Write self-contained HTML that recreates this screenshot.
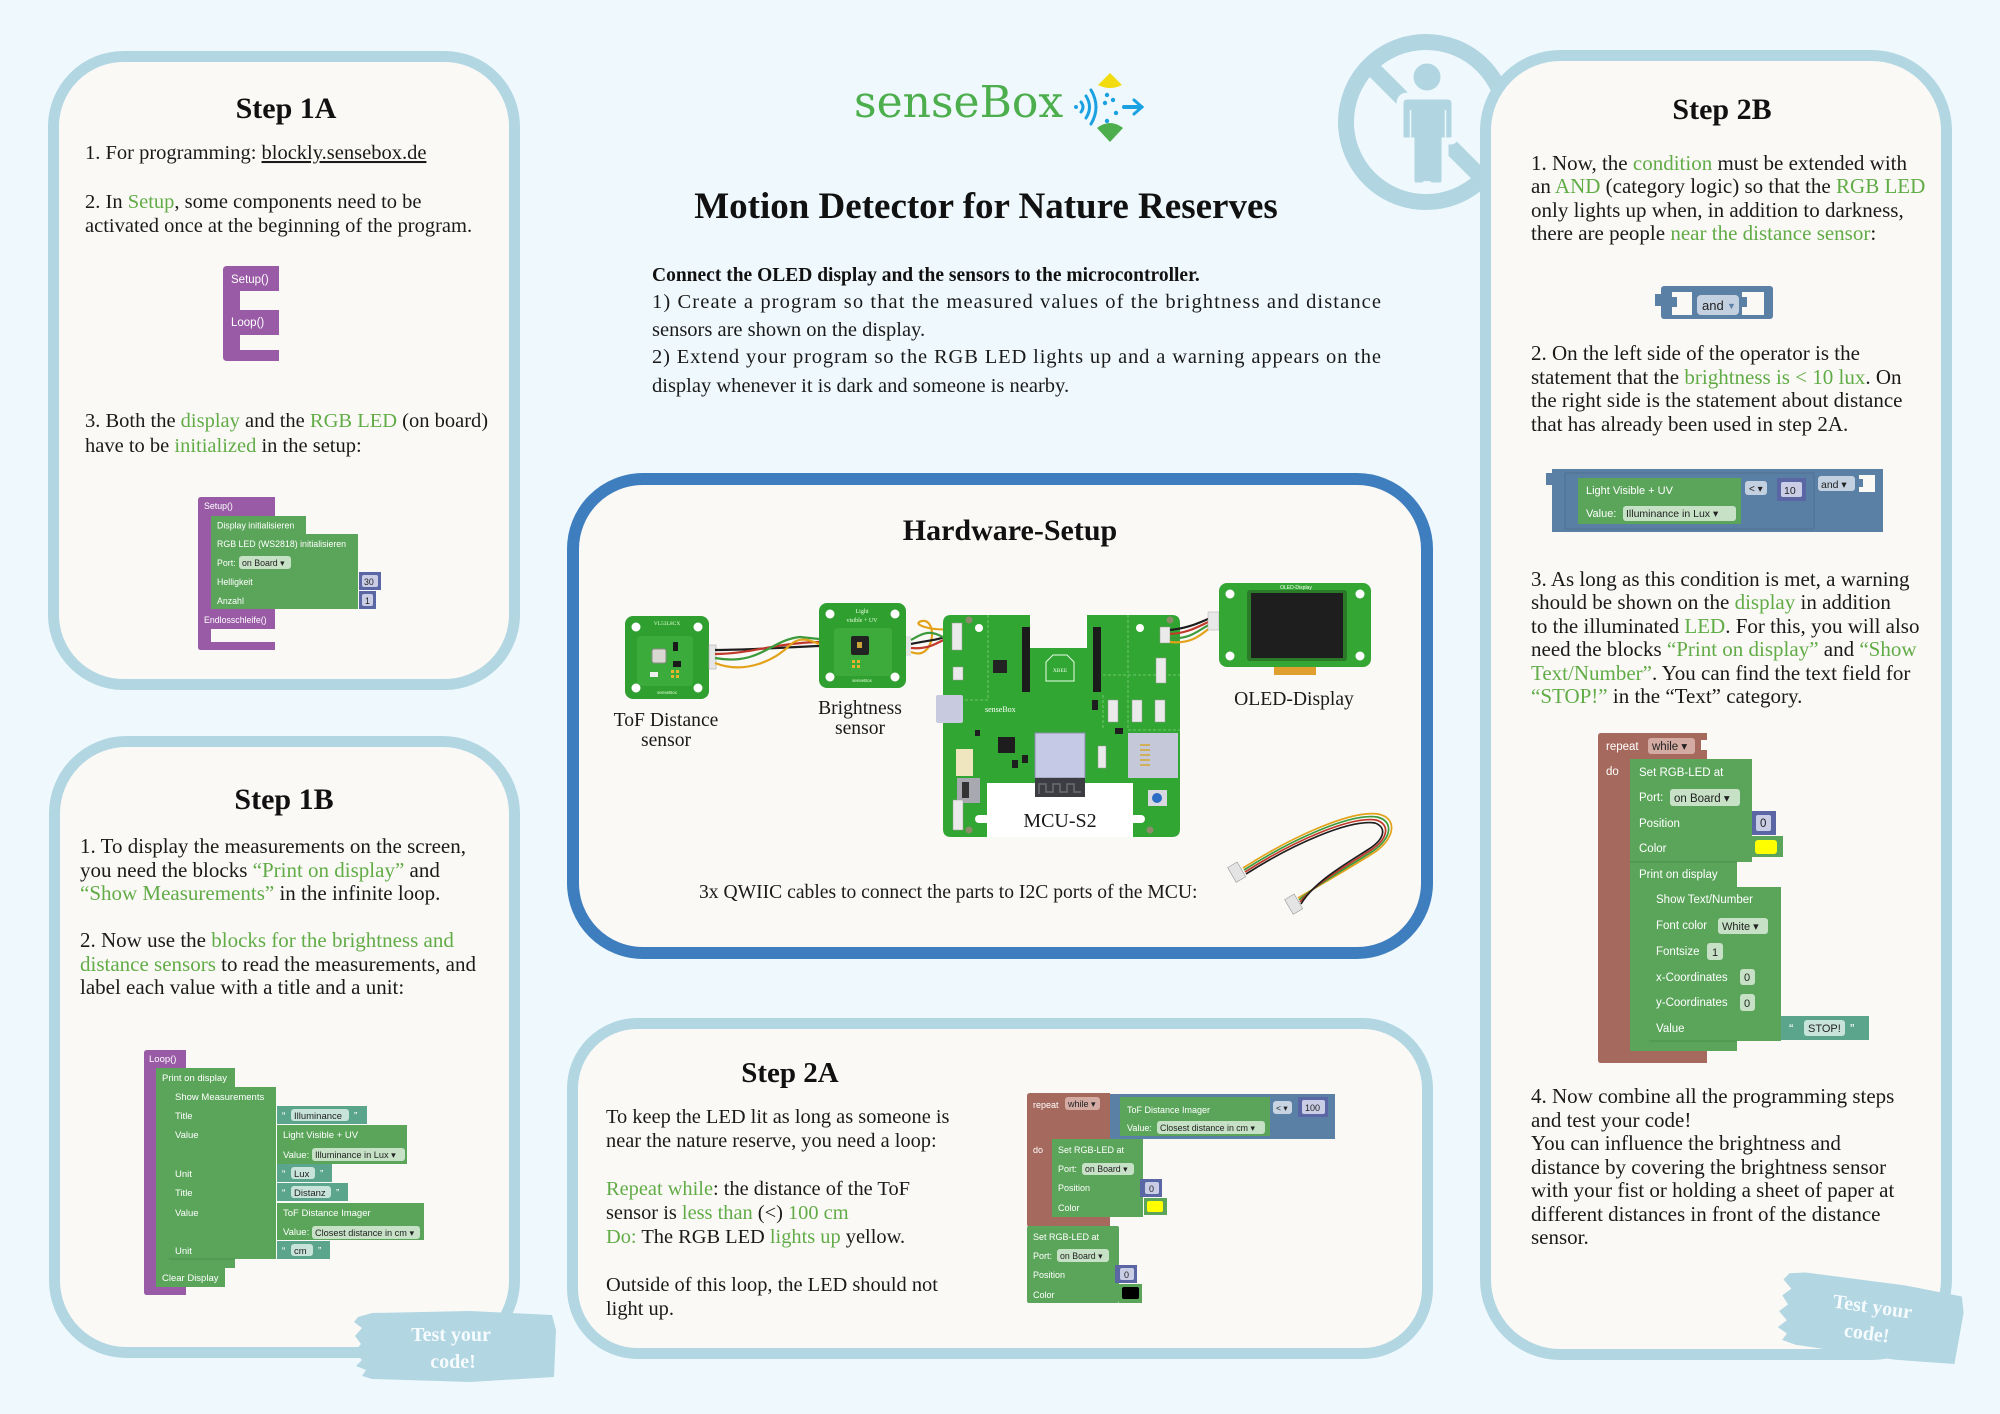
<!DOCTYPE html>
<html><head><meta charset="utf-8">
<style>
html,body{margin:0;padding:0;background:#eff9fd;}
svg{display:block;}
.s{font-family:"Liberation Serif",serif;fill:#1a1a1a;}
.h{font-family:"Liberation Serif",serif;font-weight:bold;fill:#111;}
.k{font-family:"Liberation Sans","DejaVu Sans",sans-serif;fill:#fff;}
.d{font-family:"Liberation Sans","DejaVu Sans",sans-serif;fill:#222;}
.g{fill:#62ac47;}
</style></head><body>
<svg width="2000" height="1414" viewBox="0 0 2000 1414" xmlns="http://www.w3.org/2000/svg">
<rect width="2000" height="1414" fill="#eff9fd"/>

<!-- no-person icon -->
<g>
<circle cx="1426" cy="122" r="80" fill="none" stroke="#b1d5e1" stroke-width="16"/>
<line x1="1370" y1="66" x2="1484" y2="180" stroke="#b1d5e1" stroke-width="16"/>
<circle cx="1427" cy="77" r="17" fill="#b1d5e1" stroke="#eff9fd" stroke-width="7"/>
<path d="M1408,96 H1447 Q1455,96 1455,104 V136 Q1455,141 1450,141 H1445 V180 Q1445,186 1439,186 H1432 Q1428,186 1427,182 Q1426,186 1422,186 H1416 Q1411,186 1411,180 V141 H1405 Q1400,141 1400,136 V104 Q1400,96 1408,96 Z" fill="#b1d5e1" stroke="#eff9fd" stroke-width="7"/>
<line x1="1410.5" y1="110" x2="1410.5" y2="142" stroke="#eff9fd" stroke-width="1.5"/>
<line x1="1445.5" y1="110" x2="1445.5" y2="142" stroke="#eff9fd" stroke-width="1.5"/>
</g>

<!-- panels -->
<rect x="53.5" y="56.5" width="461" height="628" rx="70" fill="#faf9f6" stroke="#b2d6e2" stroke-width="11"/>
<rect x="54.5" y="741.5" width="460" height="611" rx="72" fill="#faf9f6" stroke="#b2d6e2" stroke-width="11"/>
<rect x="573" y="479" width="854" height="474" rx="70" fill="#faf9f6" stroke="#3e7ebf" stroke-width="12"/>
<rect x="572.5" y="1023.5" width="855" height="330" rx="65" fill="#faf9f6" stroke="#b2d6e2" stroke-width="11"/>
<rect x="1485.5" y="55.5" width="461" height="1299" rx="75" fill="#faf9f6" stroke="#b2d6e2" stroke-width="11"/>

<!-- logo -->
<text x="854" y="117" font-family="DejaVu Serif, serif" font-size="44" fill="#4cae4c">senseBox</text>
<path d="M1098,85 L1110,73 L1122,85 Q1110,91 1098,85 Z" fill="#f2dc10"/>
<path d="M1097,128 Q1110,118 1123,128 L1110,142 Z" fill="#4cae4c"/>
<g fill="none" stroke="#1ba1e2" stroke-width="3" stroke-linecap="round">
<path d="M1081,102 Q1085,107 1081,112"/>
<path d="M1086,96 Q1093,107 1086,118"/>
<path d="M1091,90 Q1101,107 1091,124"/>
<path d="M1134,100 L1142,107 L1134,114"/>
<line x1="1124" y1="107" x2="1141" y2="107" stroke-width="4"/>
</g>
<g fill="#1ba1e2"><circle cx="1076" cy="107" r="2"/><circle cx="1107" cy="95" r="2.2"/><circle cx="1105" cy="103" r="2.2"/><circle cx="1113" cy="100" r="2.2"/><circle cx="1116" cy="113" r="2.2"/><circle cx="1107" cy="121" r="2.2"/></g>

<!-- title + intro -->
<text x="986" y="218" class="h" font-size="37" text-anchor="middle">Motion Detector for Nature Reserves</text>
<text x="652" y="281" class="h" font-size="19.5">Connect the OLED display and the sensors to the microcontroller.</text>
<text x="652" y="308" class="s" font-size="20.5" textLength="729" lengthAdjust="spacing">1) Create a program so that the measured values of the brightness and distance</text>
<text x="652" y="336" class="s" font-size="20.5">sensors are shown on the display.</text>
<text x="652" y="363" class="s" font-size="20.5" textLength="729" lengthAdjust="spacing">2) Extend your program so the RGB LED lights up and a warning appears on the</text>
<text x="652" y="392" class="s" font-size="20.5">display whenever it is dark and someone is nearby.</text>

<!-- Step 1A -->
<text x="286" y="118" class="h" font-size="30" text-anchor="middle">Step 1A</text>
<text x="85" y="159" class="s" font-size="20.5">1. For programming: <tspan style="text-decoration:underline">blockly.sensebox.de </tspan></text>
<text x="85" y="208" class="s" font-size="20.5">2. In <tspan class="g">Setup</tspan>, some components need to be</text>
<text x="85" y="232" class="s" font-size="20.5">activated once at the beginning of the program.</text>
<text x="85" y="427" class="s" font-size="20.5">3. Both the <tspan class="g">display</tspan> and the <tspan class="g">RGB LED</tspan> (on board)</text>
<text x="85" y="452" class="s" font-size="20.5">have to be <tspan class="g">initialized</tspan> in the setup:</text>

<!-- 1A block: Setup/Loop -->
<path d="M227,266 H279 V291 H240 V310 H279 V335 H240 V350 H279 V361 H227 Q223,361 223,357 V270 Q223,266 227,266 Z" fill="#995ba5"/>
<text x="231" y="283" class="k" font-size="11.5">Setup()</text>
<text x="231" y="326" class="k" font-size="11.5">Loop()</text>

<!-- 1A block: Setup with init -->
<path d="M201,497 H275 V516 H211 V609 H275 V629 H211 V642 H275 V650 H201 Q198,650 198,647 V500 Q198,497 201,497 Z" fill="#995ba5"/>
<text x="204" y="509" class="k" font-size="8.8">Setup()</text>
<rect x="211" y="516" width="95" height="18" fill="#5ba55b"/>
<text x="217" y="528.5" class="k" font-size="8.8">Display initialisieren</text>
<rect x="211" y="534" width="147" height="75" fill="#5ba55b"/>
<text x="217" y="547" class="k" font-size="8.8">RGB LED (WS2818) initialisieren</text>
<text x="217" y="566" class="k" font-size="8.8">Port:</text>
<rect x="239" y="556" width="52" height="13" rx="3" fill="#c6e1c6"/>
<text x="242" y="566" class="d" font-size="8.8">on Board ▾</text>
<text x="217" y="585" class="k" font-size="8.8">Helligkeit</text>
<text x="217" y="604" class="k" font-size="8.8">Anzahl</text>
<rect x="359" y="572" width="22" height="18" fill="#5b67a5"/>
<rect x="362" y="575" width="16" height="12" rx="2" fill="#c9cde6"/>
<text x="364" y="585" class="d" font-size="8.8">30</text>
<rect x="359" y="591" width="17" height="18" fill="#5b67a5"/>
<rect x="362" y="594" width="11" height="12" rx="2" fill="#c9cde6"/>
<text x="365" y="604" class="d" font-size="8.8">1</text>
<text x="204" y="623" class="k" font-size="8.8">Endlosschleife()</text>

<!-- Step 1B -->
<text x="284" y="809" class="h" font-size="30" text-anchor="middle">Step 1B</text>
<text x="80" y="853" class="s" font-size="21">1. To display the measurements on the screen,</text>
<text x="80" y="877" class="s" font-size="21">you need the blocks <tspan class="g">“Print on display”</tspan> and</text>
<text x="80" y="900" class="s" font-size="21"><tspan class="g">“Show Measurements”</tspan> in the infinite loop.</text>
<text x="80" y="947" class="s" font-size="21">2. Now use the <tspan class="g">blocks for the brightness and</tspan></text>
<text x="80" y="971" class="s" font-size="21"><tspan class="g">distance sensors</tspan> to read the measurements, and</text>
<text x="80" y="994" class="s" font-size="21">label each value with a title and a unit:</text>

<!-- 1B block -->
<path d="M147,1050 H186 V1068 H157 V1287 H186 V1295 H147 Q144,1295 144,1292 V1053 Q144,1050 147,1050 Z" fill="#995ba5"/>
<text x="149" y="1062" class="k" font-size="9.5">Loop()</text>
<path d="M156,1068 H235 V1087 H169 V1259 H235 V1268 H156 Z" fill="#5ba55b"/>
<text x="162" y="1081" class="k" font-size="9.5">Print on display</text>
<rect x="169" y="1087" width="107" height="172" fill="#5ba55b"/>
<g class="k" font-size="9.5">
<text x="175" y="1100">Show Measurements</text>
<text x="175" y="1119">Title</text>
<text x="175" y="1138">Value</text>
<text x="175" y="1177">Unit</text>
<text x="175" y="1196">Title</text>
<text x="175" y="1216">Value</text>
<text x="175" y="1254">Unit</text>
</g>
<rect x="156" y="1268" width="69" height="19" fill="#5ba55b"/>
<text x="162" y="1281" class="k" font-size="9.5">Clear Display</text>
<line x1="169" y1="1259" x2="235" y2="1259" stroke="#4a914a" stroke-width="1"/>
<rect x="277" y="1106" width="90" height="18" fill="#5ba58c"/>
<text x="282" y="1119" class="k" font-size="10">“</text>
<rect x="291" y="1109" width="58" height="12" rx="3" fill="#c8e4da"/>
<text x="294" y="1119" class="d" font-size="9.5">Illuminance</text>
<text x="354" y="1119" class="k" font-size="10">”</text>
<rect x="277" y="1125" width="130" height="39" fill="#5ba55b"/>
<text x="283" y="1138" class="k" font-size="9.5">Light Visible + UV</text>
<text x="283" y="1158" class="k" font-size="9.5">Value:</text>
<rect x="312" y="1148" width="93" height="13" rx="3" fill="#c6e1c6"/>
<text x="315" y="1158" class="d" font-size="9.2">Illuminance in Lux ▾</text>
<rect x="277" y="1164" width="55" height="18" fill="#5ba58c"/>
<text x="282" y="1177" class="k" font-size="10">“</text>
<rect x="291" y="1167" width="24" height="12" rx="3" fill="#c8e4da"/>
<text x="294" y="1177" class="d" font-size="9.5">Lux</text>
<text x="320" y="1177" class="k" font-size="10">”</text>
<rect x="277" y="1183" width="71" height="18" fill="#5ba58c"/>
<text x="282" y="1196" class="k" font-size="10">“</text>
<rect x="291" y="1186" width="40" height="12" rx="3" fill="#c8e4da"/>
<text x="294" y="1196" class="d" font-size="9.5">Distanz</text>
<text x="336" y="1196" class="k" font-size="10">”</text>
<rect x="277" y="1203" width="147" height="37" fill="#5ba55b"/>
<text x="283" y="1216" class="k" font-size="9.5">ToF Distance Imager</text>
<text x="283" y="1235" class="k" font-size="9.5">Value:</text>
<rect x="312" y="1226" width="108" height="13" rx="3" fill="#c6e1c6"/>
<text x="315" y="1236" class="d" font-size="9.2">Closest distance in cm ▾</text>
<rect x="277" y="1241" width="53" height="18" fill="#5ba58c"/>
<text x="282" y="1254" class="k" font-size="10">“</text>
<rect x="291" y="1244" width="22" height="12" rx="3" fill="#c8e4da"/>
<text x="294" y="1254" class="d" font-size="9.5">cm</text>
<text x="318" y="1254" class="k" font-size="10">”</text>

<!-- Test your code 1B -->
<path d="M358,1317 L372,1313 L470,1311 L552,1315 L556,1330 L554,1377 L470,1382 L372,1379 L362,1376 L366,1370 L356,1366 L362,1360 L354,1352 L361,1344 L355,1336 L362,1328 L354,1322 Z" fill="#b2d6e2"/>
<text x="451" y="1341" class="h" font-size="20" style="fill:#f6fbfd" text-anchor="middle">Test your</text>
<text x="453" y="1368" class="h" font-size="20" style="fill:#f6fbfd" text-anchor="middle">code!</text>

<!-- Hardware -->
<text x="1010" y="540" class="h" font-size="30" text-anchor="middle">Hardware-Setup</text>

<!-- ToF board -->
<rect x="625" y="616" width="84" height="83" rx="8" fill="#2f9f2f"/>
<rect x="637" y="636" width="56" height="50" rx="3" fill="#3bab3b"/>
<g fill="#fff"><circle cx="636" cy="627" r="4.5"/><circle cx="698" cy="627" r="4.5"/><circle cx="636" cy="688" r="4.5"/><circle cx="698" cy="688" r="4.5"/></g>
<rect x="652" y="649" width="14" height="14" rx="2" fill="#d8d8d0" stroke="#888" stroke-width="1"/>
<rect x="673" y="642" width="5" height="9" fill="#1a1a1a"/>
<rect x="673" y="661" width="8" height="6" fill="#1a1a1a"/>
<g fill="#e8b42a"><rect x="671" y="670" width="3" height="3"/><rect x="676" y="670" width="3" height="3"/><rect x="671" y="675" width="3" height="3"/><rect x="676" y="675" width="3" height="3"/></g>
<rect x="650" y="672" width="8" height="5" fill="#eee"/>
<text x="667" y="625" font-family="Liberation Serif,serif" font-size="5.5" fill="#dfffd0" text-anchor="middle">VL53L8CX</text>
<text x="667" y="694" font-family="Liberation Sans,sans-serif" font-size="4.5" fill="#dfffd0" text-anchor="middle">senseBox</text>
<rect x="709" y="645" width="7" height="24" fill="#e6e6e6" stroke="#aaa" stroke-width="0.6"/>

<!-- Brightness board -->
<rect x="819" y="603" width="87" height="85" rx="8" fill="#2f9f2f"/>
<rect x="834" y="628" width="58" height="48" rx="3" fill="#3cab3c"/>
<g fill="#fff"><circle cx="830" cy="614" r="4.5"/><circle cx="895" cy="614" r="4.5"/><circle cx="830" cy="677" r="4.5"/><circle cx="895" cy="677" r="4.5"/></g>
<rect x="851" y="636" width="18" height="19" rx="2" fill="#222"/>
<rect x="857" y="642" width="5" height="6" fill="#c9a33a"/>
<g fill="#e8b42a"><rect x="852" y="660" width="3" height="3"/><rect x="857" y="660" width="3" height="3"/><rect x="852" y="665" width="3" height="3"/><rect x="857" y="665" width="3" height="3"/></g>
<text x="862" y="613" font-family="Liberation Serif,serif" font-size="6" fill="#e6ffdc" text-anchor="middle">Light</text>
<text x="862" y="622" font-family="Liberation Serif,serif" font-size="6" fill="#e6ffdc" text-anchor="middle">visible + UV</text>
<text x="862" y="682" font-family="Liberation Sans,sans-serif" font-size="4.5" fill="#e6ffdc" text-anchor="middle">senseBox</text>
<rect x="906" y="636" width="5" height="20" fill="#e6e6e6"/>

<!-- wires ToF -> Brightness -->
<g fill="none" stroke-width="2.2">
<path d="M715,650 C750,650 770,648 819,646" stroke="#1e1e1e"/>
<path d="M715,654 C750,654 775,643 819,642" stroke="#c0392b"/>
<path d="M715,658 C760,666 770,640 800,637 L819,639" stroke="#3c9a3c"/>
<path d="M715,663 C745,675 775,660 790,645 C800,636 810,640 819,644" stroke="#e3a21a"/>
</g>
<!-- wires Brightness -> MCU -->
<g fill="none" stroke-width="2.2">
<path d="M911,652 C935,662 938,618 922,621 C910,624 930,631 952,629" stroke="#e3a21a"/>
<path d="M911,644 C930,640 940,640 952,634" stroke="#1e1e1e"/>
<path d="M911,648 C935,650 940,638 952,638" stroke="#c0392b"/>
<path d="M911,640 C925,632 932,628 952,643" stroke="#3c9a3c"/>
</g>

<!-- MCU board -->
<path d="M951,615 L1030,615 L1030,648 L1087,648 L1087,615 L1172,615 Q1180,615 1180,623 L1180,829 Q1180,837 1172,837 L951,837 Q943,837 943,829 L943,623 Q943,615 951,615 Z" fill="#32a632"/>
<g fill="none" stroke="#7fd07f" stroke-width="0.8" stroke-dasharray="3,2">
<path d="M988,615 V700 H943"/>
<path d="M1128,615 V730 H1180"/>
<path d="M1103,675 H1180"/>
<path d="M1103,695 V730"/>
</g>
<rect x="1022" y="627" width="8" height="65" fill="#1b1b1b"/>
<rect x="1093" y="627" width="8" height="65" fill="#1b1b1b"/>
<path d="M1046,662 L1053,655 L1067,655 L1074,662 L1074,681 L1046,681 Z" fill="none" stroke="#e8ffe8" stroke-width="1"/>
<text x="1060" y="672" font-family="Liberation Serif,serif" font-size="5.5" fill="#e8ffe8" text-anchor="middle">XBEE</text>
<rect x="993" y="660" width="14" height="13" fill="#222"/>
<rect x="998" y="737" width="17" height="16" fill="#1d1d1d"/>
<rect x="936" y="695" width="27" height="28" rx="2" fill="#c8cbe0"/>
<rect x="956" y="749" width="17" height="27" fill="#efe6c0"/>
<rect x="957" y="778" width="23" height="25" fill="#a8a8b0"/>
<rect x="962" y="782" width="7" height="16" fill="#333"/>
<rect x="1128" y="733" width="50" height="45" fill="#c5c8d8"/>
<g stroke="#d4a82a" stroke-width="1.5"><line x1="1140" y1="745" x2="1150" y2="745"/><line x1="1140" y1="750" x2="1150" y2="750"/><line x1="1140" y1="755" x2="1150" y2="755"/><line x1="1140" y1="760" x2="1150" y2="760"/><line x1="1140" y1="765" x2="1150" y2="765"/></g>
<rect x="1148" y="790" width="19" height="16" fill="#d8d8e0"/>
<circle cx="1157" cy="798" r="5" fill="#2b6cc4"/>
<g fill="#eaeaea" stroke="#999" stroke-width="0.5">
<rect x="952" y="623" width="10" height="27"/>
<rect x="1160" y="627" width="10" height="16"/>
<rect x="1156" y="658" width="10" height="25"/>
<rect x="1108" y="700" width="10" height="22"/>
<rect x="1132" y="700" width="10" height="22"/>
<rect x="1155" y="700" width="10" height="22"/>
<rect x="953" y="667" width="10" height="13"/>
<rect x="953" y="800" width="10" height="30"/>
<rect x="1098" y="746" width="8" height="22"/>
</g>
<g fill="#1e1e1e"><rect x="1012" y="760" width="6" height="8"/><rect x="1022" y="755" width="6" height="8"/><rect x="1115" y="728" width="8" height="6"/><rect x="1092" y="700" width="6" height="10"/><rect x="975" y="730" width="5" height="6"/></g>
<circle cx="979" cy="628" r="4" fill="#fff"/><circle cx="1140" cy="628" r="4" fill="#fff"/>
<circle cx="969" cy="620" r="3.5" fill="#8c8c6c"/><circle cx="1170" cy="620" r="3.5" fill="#8c8c6c"/><circle cx="969" cy="830" r="3.5" fill="#8c8c6c"/><circle cx="1150" cy="830" r="3.5" fill="#8c8c6c"/>
<text x="985" y="712" font-family="Liberation Serif,serif" font-size="8" fill="#fff">senseBox</text>
<rect x="987" y="783" width="146" height="54" fill="#fff"/>
<rect x="975" y="815" width="20" height="8" rx="4" fill="#fff"/>
<rect x="1125" y="815" width="20" height="8" rx="4" fill="#fff"/>
<rect x="1035" y="733" width="50" height="45" fill="#c5c9e6" stroke="#8a8ea8" stroke-width="1"/>
<rect x="1035" y="778" width="50" height="19" fill="#3b3d42"/>
<path d="M1039,794 V784 H1046 V792 H1053 V784 H1060 V792 H1067 V784 H1074 V792 H1081" fill="none" stroke="#6a6c72" stroke-width="1.5"/>
<text x="1060" y="827" class="s" font-size="20" text-anchor="middle">MCU-S2</text>

<!-- wires MCU -> OLED -->
<g fill="none" stroke-width="2.2">
<path d="M1170,630 C1190,628 1200,622 1213,617" stroke="#1e1e1e"/>
<path d="M1170,634 C1190,633 1200,625 1213,620" stroke="#c0392b"/>
<path d="M1170,638 C1192,640 1200,628 1213,623" stroke="#3c9a3c"/>
<path d="M1170,642 C1195,645 1205,630 1213,626" stroke="#e3a21a"/>
</g>
<rect x="1208" y="612" width="11" height="18" fill="#e8e8e8" stroke="#aaa" stroke-width="0.5"/>

<!-- OLED -->
<rect x="1274" y="662" width="42" height="13" fill="#e0a030"/>
<rect x="1219" y="583" width="152" height="84" rx="8" fill="#34a634"/>
<g fill="#fff"><circle cx="1230" cy="594" r="4.5"/><circle cx="1360" cy="594" r="4.5"/><circle cx="1230" cy="656" r="4.5"/><circle cx="1360" cy="656" r="4.5"/></g>
<rect x="1247" y="590" width="100" height="71" rx="3" fill="#2a7a2a"/>
<rect x="1251" y="593" width="92" height="65" fill="#1e1e1e"/>
<text x="1296" y="589" font-family="Liberation Sans,sans-serif" font-size="5" fill="#fff" text-anchor="middle">OLED-Display</text>

<!-- labels -->
<text x="666" y="726" class="s" font-size="19.6" text-anchor="middle">ToF Distance</text>
<text x="666" y="746" class="s" font-size="19.6" text-anchor="middle">sensor</text>
<text x="860" y="714" class="s" font-size="19.6" text-anchor="middle">Brightness</text>
<text x="860" y="734" class="s" font-size="19.6" text-anchor="middle">sensor</text>
<text x="1294" y="705" class="s" font-size="19.6" text-anchor="middle">OLED-Display</text>
<text x="699" y="898" class="s" font-size="19.6">3x QWIIC cables to connect the parts to I2C ports of the MCU:</text>

<!-- QWIIC cable -->
<g fill="none" stroke-width="1.7">
<path d="M1243,868 C1290,838 1350,810 1378,814 C1398,818 1395,838 1375,852 C1350,868 1320,885 1298,898" stroke="#e3a21a"/>
<path d="M1244,870 C1291,840 1350,813 1377,817 C1394,821 1392,838 1373,851 C1348,867 1318,884 1299,900" stroke="#3c9a3c"/>
<path d="M1245,872 C1292,842 1350,816 1376,820 C1390,824 1389,838 1371,850 C1346,866 1316,883 1300,902" stroke="#c0392b"/>
<path d="M1246,874 C1293,844 1350,819 1375,823 C1386,827 1386,838 1369,849 C1344,865 1314,882 1301,904" stroke="#1e1e1e"/>
</g>
<rect x="1231" y="864" width="11" height="17" fill="#e4e4e4" stroke="#999" stroke-width="0.6" transform="rotate(-30 1236 872)"/>
<rect x="1288" y="896" width="11" height="17" fill="#e4e4e4" stroke="#999" stroke-width="0.6" transform="rotate(-30 1293 904)"/>

<!-- Step 2A -->
<text x="790" y="1082" class="h" font-size="29" text-anchor="middle">Step 2A</text>
<text x="606" y="1123" class="s" font-size="20.4">To keep the LED lit as long as someone is</text>
<text x="606" y="1147" class="s" font-size="20.4">near the nature reserve, you need a loop:</text>
<text x="606" y="1195" class="s" font-size="20.4"><tspan class="g">Repeat while</tspan>: the distance of the ToF</text>
<text x="606" y="1219" class="s" font-size="20.4">sensor is <tspan class="g">less than</tspan> (&lt;) <tspan class="g">100 cm</tspan></text>
<text x="606" y="1243" class="s" font-size="20.4"><tspan class="g">Do:</tspan> The RGB LED <tspan class="g">lights up</tspan> yellow.</text>
<text x="606" y="1291" class="s" font-size="20.4">Outside of this loop, the LED should not</text>
<text x="606" y="1315" class="s" font-size="20.4">light up.</text>

<!-- 2A blocks -->
<path d="M1030,1093 H1110 V1140 H1052 V1217 H1110 V1227 H1030 Q1027,1227 1027,1224 V1096 Q1027,1093 1030,1093 Z" fill="#a6695d"/>
<text x="1033" y="1108" class="k" font-size="9">repeat</text>
<rect x="1065" y="1097" width="35" height="13" rx="3" fill="#d3aba3"/>
<text x="1068" y="1107" class="d" font-size="9">while ▾</text>
<text x="1033" y="1153" class="k" font-size="9">do</text>
<rect x="1110" y="1094" width="225" height="45" fill="#5b80a5"/>
<rect x="1120" y="1097" width="150" height="39" fill="#5ba55b"/>
<text x="1127" y="1113" class="k" font-size="9">ToF Distance Imager</text>
<text x="1127" y="1131" class="k" font-size="9">Value:</text>
<rect x="1157" y="1121" width="108" height="13" rx="3" fill="#c6e1c6"/>
<text x="1160" y="1131" class="d" font-size="8.8">Closest distance in cm ▾</text>
<rect x="1273" y="1101" width="19" height="13" rx="3" fill="#c8d4e2"/>
<text x="1276" y="1111" class="d" font-size="8.5">&lt; ▾</text>
<rect x="1298" y="1097" width="30" height="20" fill="#5b67a5"/>
<rect x="1302" y="1100" width="23" height="14" rx="2" fill="#c9cde6"/>
<text x="1305" y="1111" class="d" font-size="9">100</text>
<rect x="1052" y="1139" width="91" height="78" fill="#5ba55b"/>
<text x="1058" y="1153" class="k" font-size="9">Set RGB-LED at</text>
<text x="1058" y="1172" class="k" font-size="9">Port:</text>
<rect x="1082" y="1163" width="52" height="12" rx="3" fill="#c6e1c6"/>
<text x="1085" y="1172" class="d" font-size="8.8">on Board ▾</text>
<text x="1058" y="1191" class="k" font-size="9">Position</text>
<text x="1058" y="1211" class="k" font-size="9">Color</text>
<rect x="1140" y="1179" width="22" height="18" fill="#5b67a5"/>
<rect x="1145" y="1182" width="14" height="12" rx="2" fill="#c9cde6"/>
<text x="1149" y="1192" class="d" font-size="9">0</text>
<rect x="1144" y="1198" width="23" height="17" fill="#5ba55b"/>
<rect x="1147" y="1201" width="16" height="11" rx="2" fill="#ffff00"/>
<rect x="1027" y="1226" width="92" height="77" rx="2" fill="#5ba55b"/>
<text x="1033" y="1240" class="k" font-size="9">Set RGB-LED at</text>
<text x="1033" y="1259" class="k" font-size="9">Port:</text>
<rect x="1057" y="1249" width="52" height="13" rx="3" fill="#c6e1c6"/>
<text x="1060" y="1259" class="d" font-size="8.8">on Board ▾</text>
<text x="1033" y="1278" class="k" font-size="9">Position</text>
<text x="1033" y="1298" class="k" font-size="9">Color</text>
<rect x="1115" y="1265" width="22" height="18" fill="#5b67a5"/>
<rect x="1120" y="1268" width="14" height="12" rx="2" fill="#c9cde6"/>
<text x="1124" y="1278" class="d" font-size="9">0</text>
<rect x="1119" y="1284" width="23" height="19" fill="#5ba55b"/>
<rect x="1122" y="1287" width="17" height="12" rx="2" fill="#000"/>

<!-- Step 2B -->
<text x="1722" y="119" class="h" font-size="30" text-anchor="middle">Step 2B</text>
<g class="s" font-size="21">
<text x="1531" y="170">1. Now, the <tspan class="g">condition</tspan> must be extended with</text>
<text x="1531" y="193">an <tspan class="g">AND</tspan> (category logic) so that the <tspan class="g">RGB LED</tspan></text>
<text x="1531" y="217">only lights up when, in addition to darkness,</text>
<text x="1531" y="240">there are people <tspan class="g">near the distance sensor</tspan>:</text>
<text x="1531" y="360">2. On the left side of the operator is the</text>
<text x="1531" y="384">statement that the <tspan class="g">brightness is &lt; 10 lux</tspan>. On</text>
<text x="1531" y="407">the right side is the statement about distance</text>
<text x="1531" y="431">that has already been used in step 2A.</text>
<text x="1531" y="586">3. As long as this condition is met, a warning</text>
<text x="1531" y="609">should be shown on the <tspan class="g">display</tspan> in addition</text>
<text x="1531" y="633">to the illuminated <tspan class="g">LED</tspan>. For this, you will also</text>
<text x="1531" y="656">need the blocks <tspan class="g">“Print on display”</tspan> and <tspan class="g">“Show</tspan></text>
<text x="1531" y="680"><tspan class="g">Text/Number”</tspan>. You can find the text field for</text>
<text x="1531" y="703"><tspan class="g">“STOP!”</tspan> in the “Text” category.</text>
<text x="1531" y="1103">4. Now combine all the programming steps</text>
<text x="1531" y="1127">and test your code!</text>
<text x="1531" y="1150">You can influence the brightness and</text>
<text x="1531" y="1174">distance by covering the brightness sensor</text>
<text x="1531" y="1197">with your fist or holding a sheet of paper at</text>
<text x="1531" y="1221">different distances in front of the distance</text>
<text x="1531" y="1244">sensor.</text>
</g>

<!-- and block -->
<rect x="1661" y="286" width="112" height="33" rx="3" fill="#5b80a5"/>
<rect x="1655" y="294" width="7" height="12" fill="#5b80a5"/>
<rect x="1672" y="292" width="20" height="23" fill="#faf9f6"/>
<rect x="1672" y="297" width="5" height="10" fill="#5b80a5"/>
<rect x="1697" y="295" width="42" height="20" rx="4" fill="#c3d0df"/>
<text x="1702" y="310" class="d" font-size="13">and</text>
<text x="1727" y="309" font-family="Liberation Sans,sans-serif" font-size="9" fill="#5b80a5">▼</text>
<rect x="1742" y="292" width="22" height="23" fill="#faf9f6"/>
<rect x="1742" y="297" width="5" height="10" fill="#5b80a5"/>

<!-- big condition block -->
<rect x="1552" y="469" width="331" height="63" fill="#5b80a5"/>
<rect x="1546" y="473" width="7" height="12" fill="#5b80a5"/>
<rect x="1565" y="473" width="249" height="56" fill="#5a7fa4" stroke="#4d6f91" stroke-width="1"/>
<rect x="1578" y="478" width="163" height="46" fill="#5ba55b"/>
<text x="1586" y="494" class="k" font-size="11">Light Visible + UV</text>
<text x="1586" y="517" class="k" font-size="11">Value:</text>
<rect x="1623" y="506" width="113" height="15" rx="3" fill="#c6e1c6"/>
<text x="1626" y="517" class="d" font-size="10.5">Illuminance in Lux ▾</text>
<rect x="1745" y="481" width="22" height="14" rx="3" fill="#c3d0df"/>
<text x="1749" y="492" class="d" font-size="10">&lt; ▾</text>
<rect x="1777" y="478" width="29" height="23" fill="#5b67a5"/>
<rect x="1781" y="482" width="21" height="15" rx="2" fill="#c9cde6"/>
<text x="1784" y="494" class="d" font-size="10.5">10</text>
<rect x="1818" y="476" width="37" height="15" rx="3" fill="#c3d0df"/>
<text x="1821" y="488" class="d" font-size="10.5">and ▾</text>
<rect x="1859" y="475" width="16" height="17" fill="#faf9f6"/>
<rect x="1859" y="479" width="4" height="8" fill="#5b80a5"/>

<!-- 2B repeat block -->
<path d="M1601,733 H1707 V759 H1630 V1051 H1707 V1063 H1601 Q1598,1063 1598,1060 V736 Q1598,733 1601,733 Z" fill="#a6695d"/>
<text x="1606" y="750" class="k" font-size="11.5">repeat</text>
<rect x="1648" y="738" width="47" height="16" rx="3" fill="#d3aba3"/>
<text x="1652" y="750" class="d" font-size="11.5">while ▾</text>
<rect x="1701" y="740" width="6" height="10" fill="#faf9f6"/>
<text x="1606" y="775" class="k" font-size="11.5">do</text>
<rect x="1630" y="759" width="122" height="103" fill="#5ba55b"/>
<text x="1639" y="776" class="k" font-size="11.5">Set RGB-LED at</text>
<text x="1639" y="801" class="k" font-size="11.5">Port:</text>
<rect x="1670" y="789" width="70" height="17" rx="3" fill="#c6e1c6"/>
<text x="1674" y="802" class="d" font-size="11.5">on Board ▾</text>
<text x="1639" y="827" class="k" font-size="11.5">Position</text>
<text x="1639" y="852" class="k" font-size="11.5">Color</text>
<rect x="1752" y="811" width="24" height="24" fill="#5b67a5"/>
<rect x="1756" y="815" width="15" height="16" rx="2" fill="#c9cde6"/>
<text x="1760" y="827" class="d" font-size="11.5">0</text>
<rect x="1752" y="836" width="31" height="21" fill="#5ba55b"/>
<rect x="1755" y="840" width="22" height="14" rx="3" fill="#ffff00"/>
<path d="M1630,862 H1737 V887 H1649 V1041 H1737 V1051 H1630 Z" fill="#5ba55b"/>
<line x1="1630" y1="862" x2="1737" y2="862" stroke="#4a914a" stroke-width="1"/>
<text x="1639" y="878" class="k" font-size="11.5">Print on display</text>
<rect x="1649" y="887" width="132" height="154" fill="#5ba55b"/>
<line x1="1649" y1="1041" x2="1737" y2="1041" stroke="#4a914a" stroke-width="1"/>
<g class="k" font-size="11.5">
<text x="1656" y="903">Show Text/Number</text>
<text x="1656" y="929">Font color</text>
<text x="1656" y="955">Fontsize</text>
<text x="1656" y="981">x-Coordinates</text>
<text x="1656" y="1006">y-Coordinates</text>
<text x="1656" y="1032">Value</text>
</g>
<rect x="1718" y="918" width="50" height="16" rx="3" fill="#c6e1c6"/>
<text x="1722" y="930" class="d" font-size="11">White ▾</text>
<rect x="1707" y="943" width="16" height="17" rx="3" fill="#c6e1c6"/>
<text x="1712" y="956" class="d" font-size="11">1</text>
<rect x="1740" y="969" width="15" height="16" rx="3" fill="#c6e1c6"/>
<text x="1744" y="981" class="d" font-size="11">0</text>
<rect x="1740" y="994" width="15" height="17" rx="3" fill="#c6e1c6"/>
<text x="1744" y="1007" class="d" font-size="11">0</text>
<rect x="1781" y="1016" width="88" height="24" fill="#5ba58c"/>
<text x="1789" y="1033" class="k" font-size="13">“</text>
<rect x="1804" y="1020" width="41" height="16" rx="3" fill="#c8e4da"/>
<text x="1808" y="1032" class="d" font-size="11">STOP!</text>
<text x="1850" y="1033" class="k" font-size="13">”</text>

<!-- Test your code 2B -->
<g transform="rotate(8 1871 1318)">
<path d="M1784,1285 L1800,1282 L1900,1281 L1958,1284 L1962,1300 L1960,1352 L1900,1356 L1800,1355 L1786,1352 L1790,1345 L1780,1340 L1788,1332 L1779,1324 L1787,1316 L1780,1308 L1788,1300 L1779,1292 Z" fill="#b2d6e2"/>
<text x="1871" y="1313" class="h" font-size="20" style="fill:#f6fbfd" text-anchor="middle">Test your</text>
<text x="1869" y="1340" class="h" font-size="20" style="fill:#f6fbfd" text-anchor="middle">code!</text>
</g>
</svg>
</body></html>
